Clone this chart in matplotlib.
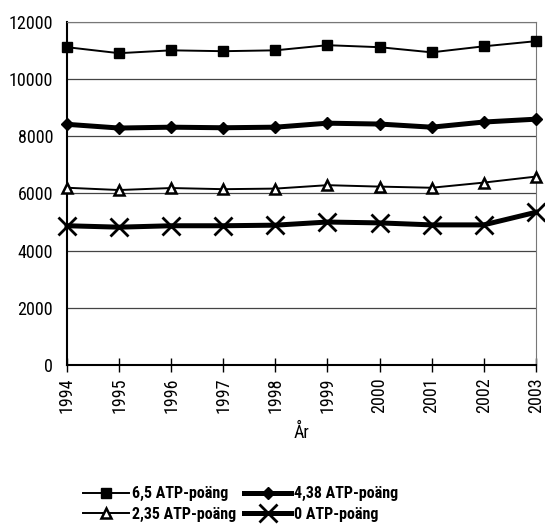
import matplotlib
matplotlib.use('Agg')
import matplotlib.pyplot as plt

plt.rcParams['font.family'] = ['Roboto Condensed', 'DejaVu Sans']

years = [1994, 1995, 1996, 1997, 1998, 1999, 2000, 2001, 2002, 2003]
atp_65 = [11120, 10910, 11010, 10980, 11010, 11190, 11120, 10940, 11150, 11330]
atp_438 = [8420, 8290, 8320, 8300, 8320, 8460, 8430, 8320, 8500, 8600]
atp_235 = [6200, 6120, 6190, 6150, 6170, 6290, 6240, 6200, 6380, 6590]
atp_0 = [4870, 4820, 4870, 4870, 4890, 5000, 4970, 4900, 4900, 5340]

fig = plt.figure(figsize=(5.45, 5.25), dpi=100)
ax = fig.add_axes([0.123, 0.305, 0.860, 0.653])

l65, = ax.plot(years, atp_65, color='black', lw=1.4, marker='s', ms=7.5,
               label='6,5 ATP-poäng', clip_on=False, zorder=5)
l438, = ax.plot(years, atp_438, color='black', lw=3.6, marker='D', ms=6.5,
                label='4,38 ATP-poäng', clip_on=False, zorder=5)
l235, = ax.plot(years, atp_235, color='black', lw=1.4, marker='^', ms=7,
                mfc='white', mew=1.8, label='2,35 ATP-poäng', clip_on=False, zorder=5)
l0, = ax.plot(years, atp_0, color='black', lw=3.6, marker='x', ms=13, mew=2,
              label='0 ATP-poäng', clip_on=False, zorder=5)

ax.set_xlim(1994, 2003)
ax.set_ylim(0, 12000)
ax.set_yticks(range(0, 12001, 2000))
ax.set_xticks(years)
ax.set_xticklabels([str(y) for y in years], rotation=90)
ax.grid(axis='y', color='#444444', lw=0.9)
ax.set_axisbelow(True)

for side in ['top', 'right']:
    ax.spines[side].set_color('#777777')
    ax.spines[side].set_linewidth(0.8)
for side in ['left', 'bottom']:
    ax.spines[side].set_color('black')
    ax.spines[side].set_linewidth(1.5)

ax.tick_params(axis='x', direction='inout', length=10, width=1, labelsize=13, pad=4)
ax.tick_params(axis='y', length=0, labelsize=13, pad=10)
ax.set_xlabel('År', fontsize=13, labelpad=8)

# row-major order in a 2-column legend
ax.legend([l65, l235, l438, l0],
          ['6,5 ATP-poäng', '2,35 ATP-poäng', '4,38 ATP-poäng', '0 ATP-poäng'],
          loc='upper left', bbox_to_anchor=(0.02, -0.335), ncol=2,
          frameon=False, prop={'weight': 'bold', 'size': 11.5},
          handlelength=2.9, handletextpad=0.2, columnspacing=0.5,
          labelspacing=0.35, borderaxespad=0)

fig.savefig('out.png', dpi=100)
